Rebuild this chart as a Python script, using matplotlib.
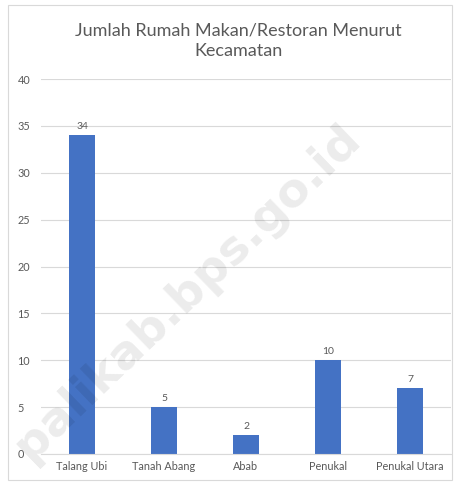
import numpy as np
import matplotlib.pyplot as plt
from matplotlib.patches import Rectangle

kecamatan = ['Talang Ubi', 'Tanah Abang', 'Abab', 'Penukal', 'Penukal Utara']
jumlah = [34, 5, 2, 10, 7]
yticks = [0, 5, 10, 15, 20, 25, 30, 35, 40]

GRAY = '#595959'
GRID = '#D9D9D9'
BLUE = '#4472C4'
plt.rcParams['font.family'] = ['Lato', 'DejaVu Sans']

fig = plt.figure(figsize=(4.57, 4.83), dpi=100)
fig.patches.append(Rectangle((8 / 457, 1 - 480 / 483), 444 / 457, 475 / 483,
                             transform=fig.transFigure, fill=False,
                             edgecolor=GRID, linewidth=0.8))

fig.text(238 / 457, 1 - 41 / 483, 'Jumlah Rumah Makan/Restoran Menurut\nKecamatan',
         ha='center', va='center', fontsize=13, color=GRAY, linespacing=1.35)

ax = fig.add_axes((41 / 457, 1 - 454 / 483, 410 / 457, 375 / 483))
x = np.arange(len(kecamatan))
bars = ax.bar(x, jumlah, width=0.32, color=BLUE, zorder=2)
for b, v in zip(bars, jumlah):
    ax.annotate(str(v), (b.get_x() + b.get_width() / 2, v),
                xytext=(0, 3), textcoords='offset points',
                ha='center', va='bottom', fontsize=7.5, color=GRAY)

ax.set_xlim(-0.5, len(kecamatan) - 0.5)
ax.set_ylim(0, 40)
ax.set_yticks(yticks)
ax.set_xticks(x)
ax.set_xticklabels(kecamatan)
ax.tick_params(axis='both', length=0, labelsize=7.8, colors=GRAY)
ax.tick_params(axis='y', pad=17)
ax.tick_params(axis='x', pad=5)
for lbl in ax.get_yticklabels():
    lbl.set_horizontalalignment('left')
ax.grid(axis='y', color=GRID, linewidth=0.8, zorder=0)
for s in ['left', 'top', 'right']:
    ax.spines[s].set_visible(False)
ax.spines['bottom'].set_color(GRID)

# watermark
fig.text(187 / 457, 1 - 292 / 483, 'palikab.bps.go.id', rotation=44,
         ha='center', va='center', fontsize=34, fontweight='bold',
         color='black', alpha=0.08, family='DejaVu Sans', zorder=5)

fig.savefig('out.png', dpi=100)
